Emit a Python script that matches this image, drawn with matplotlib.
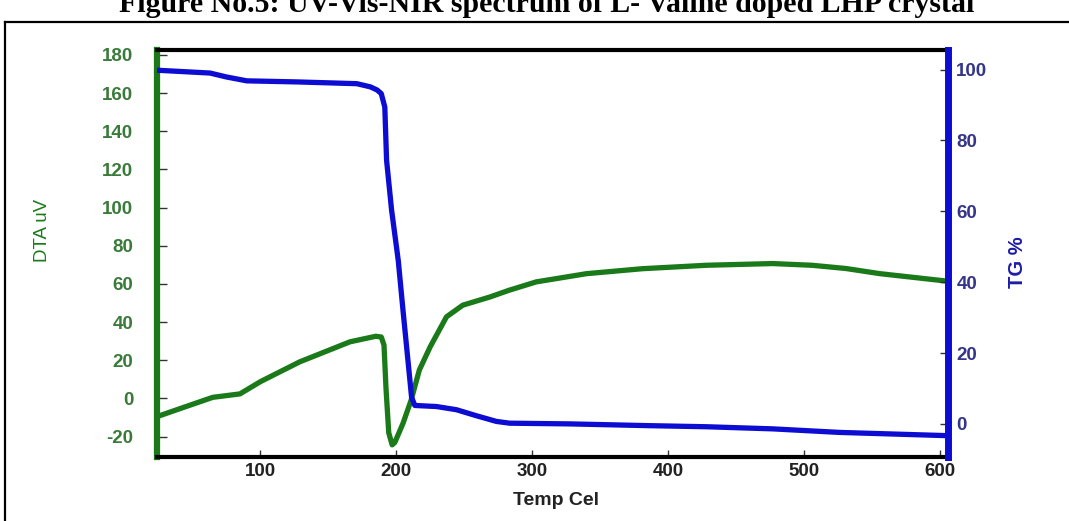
import matplotlib
matplotlib.use('Agg')
import matplotlib.pyplot as plt
from matplotlib.lines import Line2D

# DTA curve (left axis)
temp_dta = [24, 45, 65, 85, 100, 129, 166, 185, 189, 191, 192.5, 194.5, 197, 199,
            205, 211, 217, 225, 237, 249, 269, 283, 303, 340, 381, 428, 477, 506,
            531, 556, 604]
dta = [-9.5, -4.3, 0.6, 2.4, 8.8, 19.2, 29.7, 32.6, 32.2, 28, 5, -18, -24.3, -23,
       -13, -0.8, 14.9, 27.1, 42.8, 48.9, 53.2, 56.7, 61.1, 65.4, 68, 69.8, 70.7, 69.8,
       68.1, 65.4, 61.6]

# TG curve (right axis)
temp_tg = [24, 63, 75, 90, 127, 171, 181, 186, 189, 191.6, 192.9, 196.6, 201.5, 205,
           211.3, 213.7, 229.6, 244.3, 259, 273.7, 283.5, 327.7, 386.5, 428, 477, 526, 604]
tg = [99.8, 99.0, 97.9, 96.8, 96.5, 96.0, 95.1, 94.2, 93.2, 89.4, 74.4, 60.3, 46.1, 32,
      7.5, 5.2, 4.9, 4.0, 2.3, 0.7, 0.2, 0.0, -0.5, -0.8, -1.4, -2.4, -3.3]

x_ticks = [100, 200, 300, 400, 500, 600]
dta_ticks = [-20, 0, 20, 40, 60, 80, 100, 120, 140, 160, 180]
tg_ticks = [0, 20, 40, 60, 80, 100]

title = 'Figure No.5: UV-Vis-NIR spectrum of L- Valine doped LHP crystal'

green = '#1a7a1a'
blue = '#0c0cd2'

plt.rcParams['font.family'] = ['Liberation Sans', 'DejaVu Sans']
plt.rcParams['axes.unicode_minus'] = False

fig = plt.figure(figsize=(10.69, 5.21), dpi=100)
ax = fig.add_axes([0.1469, 0.1238, 0.7399, 0.7802])

ax.plot(temp_dta, dta, color=green, lw=3.8, solid_joinstyle='round', solid_capstyle='round')
ax.set_xlim(24, 606)
ax.set_ylim(-30.4, 182.6)
ax.set_xticks(x_ticks)
ax.set_yticks(dta_ticks)

ax2 = ax.twinx()
ax2.plot(temp_tg, tg, color=blue, lw=3.8, solid_joinstyle='round', solid_capstyle='round')
ax2.set_ylim(-9.2, 105.5)
ax2.set_yticks(tg_ticks)

ax.spines['left'].set_color(green)
ax.spines['left'].set_linewidth(4.5)
ax.spines['right'].set_visible(False)
for s in ['top', 'bottom']:
    ax.spines[s].set_color('black')
    ax.spines[s].set_linewidth(3)
for s in ['left', 'top', 'bottom']:
    ax2.spines[s].set_visible(False)
ax2.spines['right'].set_color(blue)
ax2.spines['right'].set_linewidth(5)

ax.tick_params(axis='y', direction='in', length=7, width=1, color='#333333', pad=17,
               labelsize=13.5, labelcolor='#3a7a3a')
ax.tick_params(axis='x', direction='in', length=5, width=1, color='#333333', pad=5,
               labelsize=13.5, labelcolor='#222222')
ax2.tick_params(axis='y', direction='in', length=6, width=1, color='#333333', pad=6,
                labelsize=13.5, labelcolor='#35358a')
for lab in ax.get_xticklabels() + ax.get_yticklabels() + ax2.get_yticklabels():
    lab.set_fontweight('bold')

ax.set_ylabel('DTA uV', color=green, fontsize=13.5)
ax.yaxis.set_label_coords(-0.134, 0.555)
ax2.set_ylabel('TG %', color='#1c1ca8', fontsize=14.5, fontweight='bold', rotation=90)
ax2.yaxis.set_label_coords(1.0759, 0.477)
ax.set_xlabel('Temp Cel', fontsize=14, fontweight='bold', color='#222222')
ax.xaxis.set_label_coords(0.505, -0.088)

# outer frame (left and top edges only are visible)
fx = 5 / 1069
fy = 1 - 22 / 521
fig.add_artist(Line2D([fx, fx], [0, fy], transform=fig.transFigure, color='black', lw=1.6))
fig.add_artist(Line2D([fx, 1], [fy, fy], transform=fig.transFigure, color='black', lw=1.6))

fig.text(0.511, 1 - 12 / 521, title, ha='center', va='baseline', fontsize=21.5,
         fontweight='bold', family='Liberation Serif')

fig.savefig('out.png', dpi=100)
